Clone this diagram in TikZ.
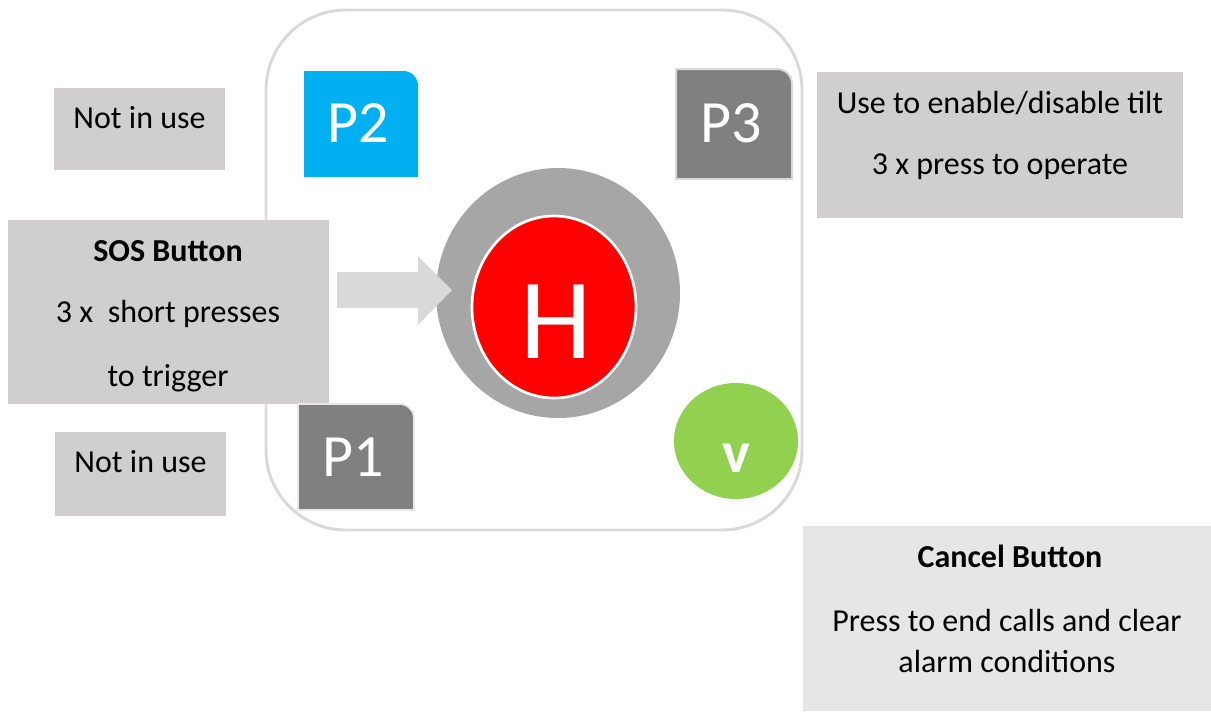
\documentclass[tikz,border=0pt]{standalone}
\usepackage{fontspec}
\setmainfont{Carlito}
\definecolor{boxgray}{HTML}{D0CECE}
\definecolor{boxlight}{HTML}{E7E6E6}
\definecolor{rimgray}{HTML}{D9D9D9}
\definecolor{btngray}{HTML}{808080}
\definecolor{ringgray}{HTML}{A6A6A6}
\definecolor{pblue}{HTML}{00B0F0}
\definecolor{pgreen}{HTML}{92D050}
\definecolor{pred}{HTML}{FF0000}
\tikzset{
  txt/.style={font=\fontsize{24}{28}\selectfont, text=black, inner sep=0pt, anchor=center},
  btxt/.style={txt, font=\fontsize{24}{28}\selectfont\bfseries},
  ptxt/.style={font=\fontsize{45}{50}\selectfont, text=white, inner sep=0pt, anchor=center},
}
\begin{document}
\begin{tikzpicture}[x=0.75pt, y=-0.75pt]
\useasboundingbox (0,0) rectangle (1211,711);
% device outline
\draw[rimgray, line width=2.2pt, rounded corners=60pt] (266,10) rectangle (802,530);
% info boxes
\fill[boxgray] (54,88) rectangle (225,170);
\node[txt] (nu1) at (139.5,118) {Not in use};
\fill[boxgray] (55,432) rectangle (226,516);
\node[txt] (nu2) at (140.5,462) {Not in use};
\fill[boxgray] (8,220) rectangle (329,404);
\node[btxt] (sos) at (168,251) {SOS Button};
\node[txt] (sos2) at (168,314) {3 x\ \ short presses};
\node[txt] (sos3) at (168,378) {to trigger};
\fill[boxgray] (817,72) rectangle (1183,218);
\node[txt] (tilt1) at (1000,103) {Use to enable/disable tilt};
\node[txt] (tilt2) at (1000,167) {3 x press to operate};
\fill[boxlight] (803,526) rectangle (1211,711);
\node[btxt] (can1) at (1010,556) {Cancel Button};
\node[txt] (can2) at (1007,620) {Press to end calls and clear};
\node[txt] (can3) at (1007,661) {alarm conditions};
% P buttons
\fill[pblue] (304,177) -- (304,71) [rounded corners=11pt] -- (418,71) [sharp corners] -- (418,177) -- cycle;
\node[ptxt] (p2) at (358,123) {P2};
\filldraw[fill=btngray, draw=rimgray, line width=1.5pt] (676,179) -- (676,69) [rounded corners=11pt] -- (792,69) [sharp corners] -- (792,179) -- cycle;
\node[ptxt] (p3) at (731,123) {P3};
\filldraw[fill=btngray, draw=rimgray!60!white, line width=1.2pt] (298,510) -- (298,404) [rounded corners=11pt] -- (414,404) [sharp corners] -- (414,510) -- cycle;
\node[ptxt] (p1) at (353,457) {P1};
% main button
\fill[ringgray] (558,293) ellipse [x radius=122, y radius=125];
\filldraw[fill=pred, draw=white, line width=2pt] (554,307) ellipse [x radius=82, y radius=91];
\node[font=\fontsize{86}{90}\selectfont, text=white, inner sep=0pt] (h) at (556,322) {H};
% green cancel button
\fill[pgreen] (736,441) ellipse [x radius=62, y radius=58];
\node[font=\fontsize{44}{50}\selectfont\bfseries, text=white, inner sep=0pt, anchor=base] (v) at (736,472) {v};
% arrow
\fill[rimgray] (337,272) -- (418,272) -- (418,256) -- (452,290) -- (418,325) -- (418,308) -- (337,308) -- cycle;
\end{tikzpicture}
\end{document}
